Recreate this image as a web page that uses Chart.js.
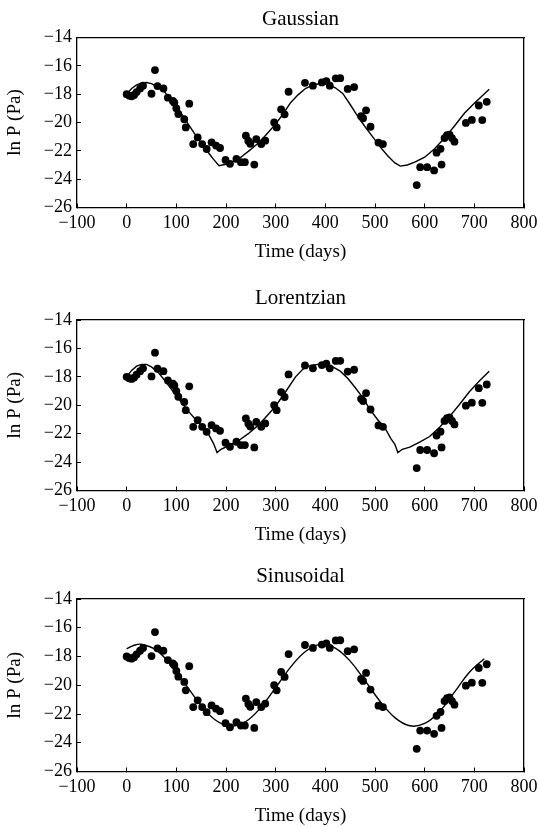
<!DOCTYPE html>
<html>
<head>
<meta charset="utf-8">
<script src="https://cdn.jsdelivr.net/npm/chart.js@4.4.0/dist/chart.umd.min.js"></script>
<style>
  body { margin: 0; background: #fff; }
  .panel { position: absolute; left: 0; }
</style>
</head>
<body>
<div class="panel" style="top:0px"><canvas id="gauss" width="539" height="270"></canvas></div>
<div class="panel" style="top:270px"><canvas id="lor" width="539" height="280"></canvas></div>
<div class="panel" style="top:550px"><canvas id="sin" width="539" height="277"></canvas></div>
<script>
// observed points (days, ln P)
var days = [0, 5, 10, 15, 20, 27, 33, 50, 57, 62, 74, 83, 93, 96, 100, 104, 116, 119, 126,
  134, 143, 152, 161, 171, 180, 188, 199, 208, 221, 230, 238, 240, 245, 249, 257, 261, 271, 279,
  297, 302, 311, 318, 326, 359, 375, 393, 402, 409, 421, 430, 445, 458, 472, 476, 482, 491,
  507, 516, 584, 591, 605, 619, 624, 632, 634, 640, 645, 650, 655, 660, 683, 695, 709, 716, 725];
var lnP = [-18.0, -18.1, -18.15, -18.05, -17.85, -17.6, -17.4, -17.97, -16.3, -17.43, -17.6, -18.25, -18.48, -18.6, -19.0, -19.4, -19.77, -20.35, -18.67,
  -21.52, -21.05, -21.52, -21.87, -21.4, -21.63, -21.8, -22.64, -22.92, -22.57, -22.8, -22.8, -20.93, -21.3, -21.5, -22.97, -21.17, -21.52, -21.28,
  -20.0, -20.35, -19.07, -19.42, -17.83, -17.2, -17.4, -17.17, -17.08, -17.4, -16.88, -16.87, -17.63, -17.5, -19.55, -19.7, -19.14, -20.3,
  -21.42, -21.52, -24.42, -23.15, -23.15, -23.38, -22.13, -21.86, -22.97, -21.1, -20.9, -20.85, -21.1, -21.35, -20.03, -19.82, -18.8, -19.83, -18.54];

// fitted curves
var gaussDays = [0, 10, 20, 30, 40, 50, 60, 75, 90, 105, 120, 135, 150, 165, 175, 186, 200, 215, 230, 250, 265, 280, 300, 315, 330, 345, 360,
  375, 390, 405, 420, 435, 450, 465, 480, 495, 510, 525, 540, 551, 565, 580, 600, 620, 640, 660, 680, 700, 715, 730];
var gaussLnP = [-18.0, -17.6, -17.35, -17.2, -17.18, -17.25, -17.45, -17.8, -18.4, -19.1, -19.9, -20.7, -21.45, -22.15, -22.6, -23.05, -22.95, -22.72, -22.45, -21.9, -21.45, -20.9, -20.1, -19.4, -18.6, -18.05, -17.6,
  -17.35, -17.25, -17.3, -17.55, -17.95, -18.73, -19.55, -20.3, -21.0, -21.7, -22.33, -22.85, -23.08, -23.0, -22.8, -22.45, -21.85, -21.1, -20.25, -19.35, -18.65, -18.15, -17.65];

var lorDays = [0, 10, 20, 30, 40, 50, 65, 80, 95, 110, 125, 140, 155, 165, 175, 182, 190, 205, 225, 245, 265, 285, 300, 320, 340, 355,
  370, 385, 400, 415, 430, 445, 460, 475, 490, 505, 520, 532, 540, 546, 555, 570, 590, 610, 630, 650, 670, 690, 710, 730];
var lorLnP = [-18.0, -17.55, -17.25, -17.12, -17.12, -17.3, -17.75, -18.4, -19.1, -19.8, -20.45, -21.05, -21.6, -22.05, -22.7, -23.33, -23.1, -22.85, -22.5, -22.0, -21.4, -20.65, -20.05, -19.05, -18.0, -17.45,
  -17.2, -17.12, -17.15, -17.3, -17.6, -18.1, -18.75, -19.45, -20.3, -21.0, -21.6, -22.35, -22.75, -23.33, -23.1, -22.95, -22.6, -22.2, -21.55, -20.8, -19.95, -19.05, -18.3, -17.6];

var sinDays = [0, 15, 30, 60, 90, 120, 150, 180, 210, 240, 270, 300, 330, 360, 390, 420, 450, 480, 510, 540, 570, 600, 630, 660, 690, 720];
var sinLnP = [-17.47, -17.22, -17.15, -17.57, -18.61, -20.01, -21.41, -22.45, -22.85, -22.52, -21.55, -20.16, -18.74, -17.65, -17.16, -17.41,
  -18.32, -19.68, -21.11, -22.25, -22.82, -22.66, -21.82, -20.48, -19.1, -18.15];

var xTickValues = [-100, 0, 100, 200, 300, 400, 500, 600, 700, 800];
var yTickValues = [-26, -24, -22, -20, -18, -16, -14];

Chart.defaults.font.family = "'Liberation Serif', 'Times New Roman', serif";
Chart.defaults.color = '#000';

function pairs(xs, ys) {
  return xs.map(function (x, i) { return { x: x, y: ys[i] }; });
}

function minusLabel(v) {
  return v < 0 ? '\u2212' + Math.abs(v) : String(v);
}

function makePanel(id, title, fitDays, fitLnP, tension, p) {
  new Chart(id, {
    type: 'scatter',
    data: {
      datasets: [
        {
          data: pairs(days, lnP),
          backgroundColor: '#000',
          borderWidth: 0,
          pointRadius: 3.9
        },
        {
          type: 'line',
          data: pairs(fitDays, fitLnP),
          borderColor: '#000',
          borderWidth: 1.4,
          pointRadius: 0,
          fill: false,
          tension: tension
        }
      ]
    },
    options: {
      responsive: false,
      animation: false,
      layout: { padding: { left: 0, right: 15, top: 0, bottom: 0 } },
      plugins: { legend: { display: false }, tooltip: { enabled: false } },
      scales: {
        x: {
          type: 'linear',
          position: 'bottom',
          min: -100, max: 800,
          afterBuildTicks: function (s) { s.ticks = xTickValues.map(function (v) { return { value: v }; }); },
          afterFit: function (s) {
            s.height = p.xH;
            // let the end labels hang over the frame, as in the original
            s.paddingLeft = 0;
            s.paddingRight = 0;
          },
          ticks: { font: { size: 18 }, padding: 9, maxRotation: 0, autoSkip: false, callback: minusLabel },
          grid: { drawOnChartArea: false, tickLength: -4, color: '#000' },
          border: { color: '#000', width: 1.3 },
          title: { display: true, text: 'Time (days)', font: { size: 19 }, padding: { top: 0, bottom: p.xTitlePad } }
        },
        x2: {
          type: 'linear',
          position: 'top',
          display: true,
          min: -100, max: 800,
          afterFit: function (s) { s.height = p.plotTop; s.paddingLeft = 0; s.paddingRight = 0; },
          ticks: { display: false },
          grid: { display: false },
          border: { color: '#000', width: 1.3 },
          title: { display: true, text: title, font: { size: 21 }, padding: { top: p.titlePad, bottom: 0 } }
        },
        y: {
          type: 'linear',
          position: 'left',
          min: -26, max: -14,
          afterBuildTicks: function (s) { s.ticks = yTickValues.map(function (v) { return { value: v }; }); },
          afterFit: function (s) { s.width = 77; },
          ticks: { font: { size: 18 }, padding: 9, callback: minusLabel },
          grid: { drawOnChartArea: false, tickLength: -4, color: '#000' },
          border: { color: '#000', width: 1.3 },
          title: { display: true, text: 'ln P (Pa)', font: { size: 19 }, padding: { top: 4, bottom: 0 } }
        },
        y2: {
          type: 'linear',
          position: 'right',
          display: true,
          min: -26, max: -14,
          afterFit: function (s) { s.width = 0; },
          ticks: { display: false },
          grid: { display: false },
          border: { color: '#000', width: 1.3 }
        }
      }
    }
  });
}

makePanel('gauss', 'Gaussian', gaussDays, gaussLnP, 0, { plotTop: 37.5, xH: 62.5, titlePad: 6.4, xTitlePad: 7 });
makePanel('lor', 'Lorentzian', lorDays, lorLnP, 0, { plotTop: 50, xH: 59.5, titlePad: 15.9, xTitlePad: 4 });
makePanel('sin', 'Sinusoidal', sinDays, sinLnP, 0.4, { plotTop: 49, xH: 55.5, titlePad: 14.1, xTitlePad: 0 });
</script>
</body>
</html>
